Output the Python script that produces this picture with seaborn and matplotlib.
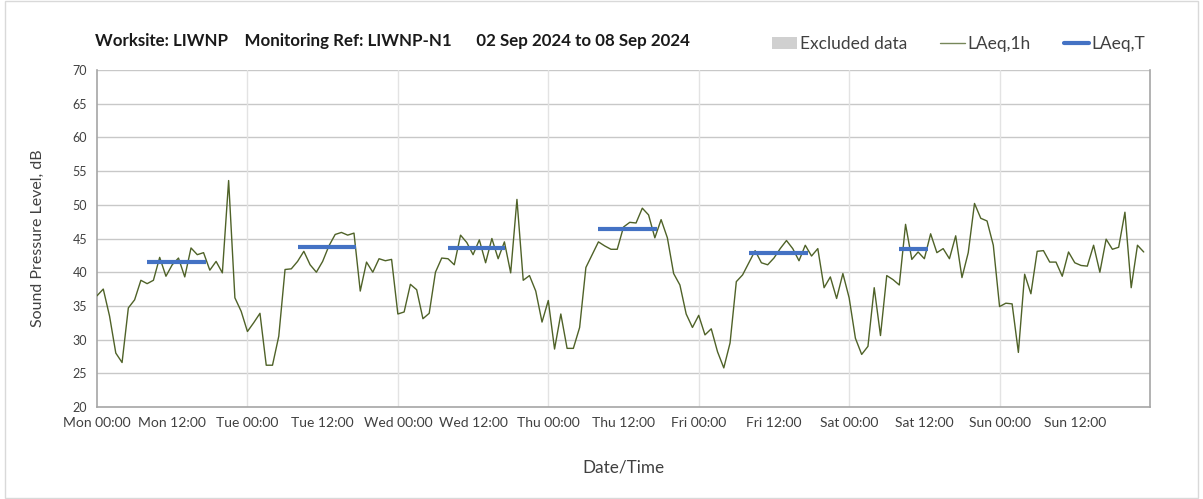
import matplotlib
matplotlib.use("Agg")
import matplotlib.pyplot as plt
from matplotlib.patches import Patch, Rectangle
from matplotlib.lines import Line2D
import pandas as pd
import seaborn as sns

# Hourly LAeq,1h values, Mon 00:00 .. Sun 23:00
laeq_1h = [
    36.5, 37.5, 33.5, 28.0, 26.6, 34.7, 35.9, 38.8, 38.3, 38.8, 42.2, 39.4,
    41.1, 42.1, 39.3, 43.6, 42.6, 42.9, 40.3, 41.6, 39.9, 53.6, 36.2, 34.2,
    31.2, 32.5, 33.9, 26.2, 26.2, 30.5, 40.4, 40.5, 41.6, 43.1,
    41.1, 40.0, 41.6, 43.9, 45.6, 45.9, 45.5, 45.8, 37.2, 41.5, 40.0, 42.0,
    41.7, 41.9, 33.8, 34.1, 38.2, 37.4, 33.1, 33.9, 40.0, 42.1, 42.0, 41.1,
    45.5, 44.4, 42.6, 44.8, 41.4, 45.0, 42.0, 44.5, 39.9, 50.8,
    38.8, 39.5, 37.2, 32.6, 35.8, 28.6, 33.8, 28.7, 28.7, 31.8, 40.7, 42.6,
    44.5, 43.9, 43.4, 43.4, 46.7, 47.4, 47.3, 49.5, 48.5, 45.1, 47.8, 45.1,
    39.8, 38.1, 33.8, 31.8, 33.6, 30.7, 31.6, 28.2, 25.8,
    29.5, 38.6, 39.6, 41.4, 43.2, 41.4, 41.1, 42.1, 43.5, 44.7, 43.5, 41.7,
    44.0, 42.4, 43.5, 37.7, 39.3, 36.1, 39.8, 36.2, 30.2, 27.8, 29.0, 37.7,
    30.6, 39.5, 38.9, 38.1, 47.1, 41.9, 43.0, 42.0, 45.7, 42.9,
    43.5, 42.0, 45.4, 39.2, 42.9, 50.2, 48.0, 47.6, 44.0, 34.9, 35.4, 35.3,
    28.1, 39.7, 36.8, 43.1, 43.2, 41.5, 41.5, 39.4, 43.0, 41.4, 41.0, 40.9,
    44.0, 40.0, 44.9, 43.4, 43.7, 48.9, 37.7, 44.0, 43.0,
]
hours = list(range(len(laeq_1h)))

# LAeq,T periods (hours from Mon 00:00)
period_start = [8, 32, 56, 80, 104, 128]
period_end = [17.4, 41.4, 65.1, 89.4, 113.4, 132.6]
laeq_t = [41.5, 43.8, 43.6, 46.4, 42.8, 43.4]

days = ["Mon", "Tue", "Wed", "Thu", "Fri", "Sat", "Sun"]
tick_labels = [f"{d} {t}" for d in days for t in ("00:00", "12:00")] + [""]

GREEN = "#4f6228"
BLUE = "#4472c4"
GRID = "#c8c8c8"
TXT = "#404040"

sns.set_theme(style="white")
plt.rcParams["font.family"] = ["Lato", "DejaVu Sans"]

df = pd.DataFrame({"hour": hours, "level": laeq_1h})

fig = plt.figure(figsize=(12.03, 4.99), dpi=100)
fig.patches.append(Rectangle((5 / 1203, 0.002), 1 - 10 / 1203, 0.996, transform=fig.transFigure,
                             fill=False, edgecolor="#d9d9d9", linewidth=1))
ax = fig.add_axes([97 / 1203, 1 - 407 / 499, (1150 - 97) / 1203, (407 - 70) / 499])

sns.lineplot(data=df, x="hour", y="level", ax=ax, color=GREEN, linewidth=1.0, zorder=3)
ax.hlines(laeq_t, period_start, period_end, color=BLUE, linewidth=3, zorder=4)

ax.set_xlim(0, 168)
ax.set_ylim(20, 70)
ax.set_yticks(range(20, 75, 5))
ax.set_xticks(range(0, 169, 12))
ax.set_xticklabels(tick_labels)

ax.grid(False)
for y in range(25, 75, 5):
    ax.axhline(y, color=GRID, linewidth=1, zorder=1)
for x in range(24, 168, 24):
    ax.axvline(x, color="#e3e3e3", linewidth=1, zorder=1)

for side in ("left", "bottom", "right"):
    ax.spines[side].set_color("#a6a6a6")
    ax.spines[side].set_linewidth(1.2)
ax.spines["top"].set_visible(False)

ax.tick_params(axis="both", which="major", length=4, width=1, color="#a6a6a6",
               direction="out", labelsize=10, labelcolor=TXT, pad=3)
ax.tick_params(axis="y", labelsize=9)

ax.set_xlabel("Date/Time", fontsize=12.3, color=TXT, labelpad=22)
ax.set_ylabel("Sound Pressure Level, dB", fontsize=11.5, color=TXT, labelpad=20)

fig.text(95 / 1203, 1 - 41 / 499,
         "Worksite: LIWNP    Monitoring Ref: LIWNP-N1      02 Sep 2024 to 08 Sep 2024",
         fontsize=12.2, fontweight="bold", color="#1a1a1a", va="center", ha="left")

handles = [
    Patch(facecolor="#d0d0d0", edgecolor="none"),
    Line2D([], [], color="#76875a", linewidth=1),
    Line2D([], [], color=BLUE, linewidth=3),
]
fig.legend(handles, ["Excluded data", "LAeq,1h", "LAeq,T"], loc="center right",
           bbox_to_anchor=(1161 / 1203, 1 - 44 / 499), ncol=3, frameon=False,
           fontsize=12.5, handlelength=1.45, handletextpad=0.15, columnspacing=1.9,
           labelcolor=TXT)

fig.savefig("out.png", dpi=100)
